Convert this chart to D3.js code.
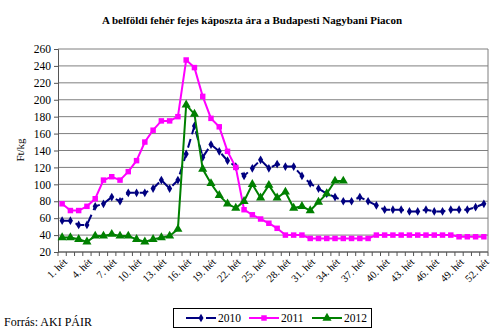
<!DOCTYPE html>
<html><head><meta charset="utf-8">
<script src="https://cdn.jsdelivr.net/npm/d3@7"></script>
<style>body{margin:0;background:#fff}svg{display:block}text{font-family:"Liberation Serif","Times New Roman",serif}</style>
</head><body><svg id="c" width="499" height="332"></svg>
<script>
const weeks = d3.range(1, 53);
const weekLabels = weeks.filter(w => (w - 1) % 3 === 0).map(w => w + ". hét");
const yTicks = [20,40,60,80,100,120,140,160,180,200,220,240,260];
const v2010 = [57,57,52,52,74,77,85,80,90,90,90,95,105,95,105,136,169,132,147,139,128,121,110,119,129,119,124,121,121,110,101,95,89,85,80,80,85,80,75,70,70,70,68,68,70,68,68,70,70,70,73,77];
const v2011 = [77,69,69,74,83,105,109,105,115,128,150,164,175,175,180,247,238,204,178,168,139,120,70,64,59,54,48,40,40,40,36,36,36,36,36,36,36,36,40,40,40,40,40,40,40,40,40,40,38,38,38,38];
const v2012 = [37,37,35,32,39,39,41,39,39,35,32,35,37,39,47,194,183,118,101,87,77,72,80,100,84,99,84,91,72,74,69,79,89,104,104];
const seriesNames = ["2010","2011","2012"];
const colors = ["#000080","#ff00ff","#008000"];

const svg = d3.select("#c");
const L = 58, R = 488, T = 49, B = 252;
const x = d3.scaleBand().domain(weeks).range([L, R]);
const y = d3.scaleLinear().domain([20, 260]).range([B, T]);
const cx = w => x(w) + x.bandwidth() / 2;

// title
svg.append("text").attr("x", 252).attr("y", 24).attr("text-anchor", "middle")
  .attr("font-size", 11).attr("font-weight", "bold").text("A belföldi fehér fejes káposzta ára a Budapesti Nagybani Piacon");

// gridlines
svg.append("g").selectAll("line").data(yTicks).join("line")
  .attr("x1", L).attr("x2", R).attr("y1", d => y(d)).attr("y2", d => y(d))
  .attr("stroke", "#7f7f7f").attr("stroke-width", 1);
svg.append("line").attr("x1", R).attr("x2", R).attr("y1", T).attr("y2", B).attr("stroke", "#7f7f7f");

// y axis
const ya = svg.append("g").attr("transform", `translate(${L},0)`)
  .call(d3.axisLeft(y).tickValues(yTicks).tickSize(4).tickPadding(3));
ya.select(".domain").attr("stroke", "#555");
ya.selectAll(".tick line").attr("stroke", "#555");
ya.selectAll("text").attr("font-size", 11.5).attr("font-family", "Liberation Serif").attr("fill", "#000");

svg.append("text").attr("transform", "translate(24,150) rotate(-90)").attr("text-anchor", "middle")
  .attr("font-size", 11).text("Ft/kg");

// x axis
svg.append("line").attr("x1", L).attr("x2", R).attr("y1", B).attr("y2", B).attr("stroke", "#555");
svg.append("g").selectAll("line").data(d3.range(0, 53)).join("line")
  .attr("x1", i => L + i * x.step()).attr("x2", i => L + i * x.step())
  .attr("y1", B).attr("y2", B + 4).attr("stroke", "#555");
svg.append("g").selectAll("text").data(weeks.filter(w => (w - 1) % 3 === 0)).join("text")
  .attr("transform", w => `translate(${cx(w) + 3},${B + 8}) rotate(-45)`)
  .attr("text-anchor", "end").attr("dy", "0.35em").attr("font-size", 10.5)
  .text((w, i) => weekLabels[i]);

// series
const line = d3.line().x(d => cx(d.w)).y(d => y(d.v));
const allVals = [v2010, v2011, v2012];
allVals.forEach((vals, si) => {
  const data = vals.map((v, i) => ({w: weeks[i], v}));
  const g = svg.append("g");
  g.append("path").datum(data).attr("d", line).attr("fill", "none")
    .attr("stroke", colors[si]).attr("stroke-width", 2)
    .attr("stroke-dasharray", si === 0 ? "9,5" : null);
  const sym = [d3.symbolDiamond, d3.symbolSquare, d3.symbolTriangle][si];
  const size = [22, 30, 36][si];
  g.selectAll("path.m").data(data).join("path").attr("class", "m")
    .attr("transform", d => `translate(${cx(d.w)},${y(d.v)})`)
    .attr("d", d3.symbol(sym, size)).attr("fill", colors[si]);
});

// source
svg.append("text").attr("x", 4).attr("y", 326).attr("font-size", 12).text("Forrás: AKI PÁIR");

// legend
svg.append("rect").attr("x", 173.5).attr("y", 308.5).attr("width", 198).attr("height", 19)
  .attr("fill", "#fff").attr("stroke", "#000").attr("stroke-width", 1);
const legX = [186, 249, 312];
seriesNames.forEach((n, i) => {
  const g = svg.append("g");
  g.append("line").attr("x1", legX[i]).attr("x2", legX[i] + 30).attr("y1", 318).attr("y2", 318)
    .attr("stroke", colors[i]).attr("stroke-width", 2).attr("stroke-dasharray", i === 0 ? "16,4" : null);
  g.append("path").attr("transform", `translate(${legX[i] + 15},318)`)
    .attr("d", d3.symbol([d3.symbolDiamond, d3.symbolSquare, d3.symbolTriangle][i], [22, 30, 36][i])).attr("fill", colors[i]);
  g.append("text").attr("x", legX[i] + 32).attr("y", 322).attr("font-size", 11.5).text(n);
});
</script></body></html>
